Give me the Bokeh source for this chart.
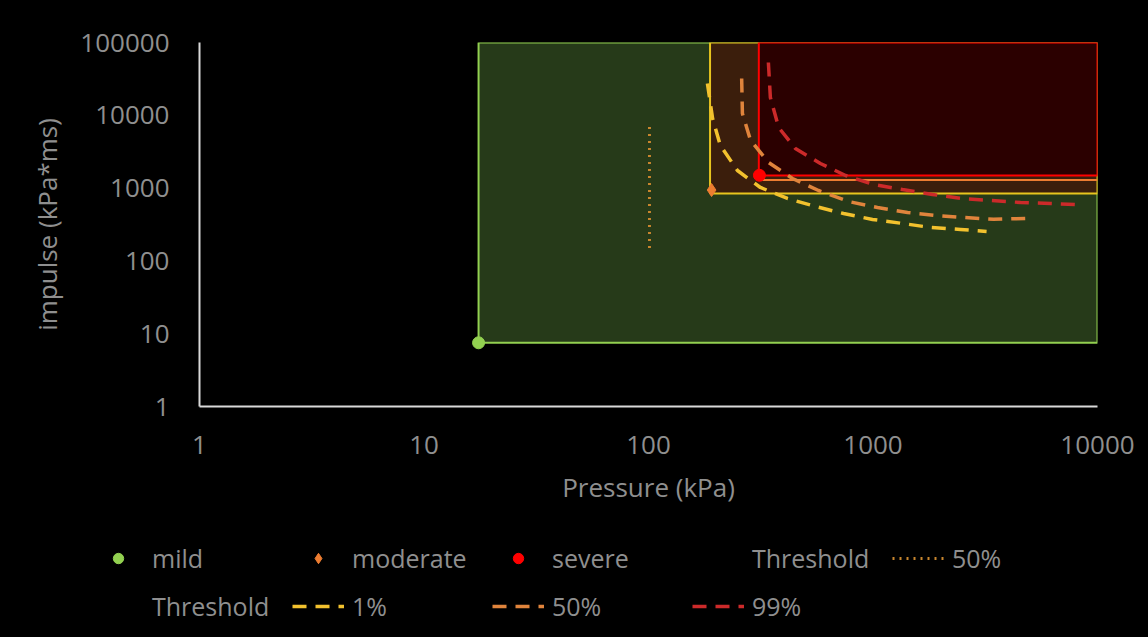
from bokeh.plotting import figure
from bokeh.models import Range1d, FixedTicker, NumeralTickFormatter, Legend, LegendItem, ColumnDataSource
from bokeh.embed import file_html
from bokeh.resources import INLINE

# ---- data -------------------------------------------------------------
x_ticks = [1, 10, 100, 1000, 10000]
y_ticks = [1, 10, 100, 1000, 10000, 100000]

zone_names = ["mild", "moderate", "severe"]
zone_left = [17.5, 188, 310]
zone_bottom = [7.5, 845, 1490]
zone_right = [10000, 10000, 10000]
zone_top = [100000, 100000, 100000]

point_x = [17.5, 191, 312]
point_y = [7.5, 940, 1500]

band_left = [310]
band_right = [10000]
band_level = [1295]

thr_dot_x = [101, 101]
thr_dot_y = [150, 8000]

thr1_x = [183, 193, 209, 249, 315, 416, 555, 739, 995, 1353, 1803, 2453, 3206]
thr1_y = [27350, 9040, 3850, 1745, 1020, 720, 559, 448, 371, 327, 288, 270, 254]
thr50_x = [260, 262, 285, 343, 438, 572, 778, 1047, 1425, 1898, 2530, 3440, 5030]
thr50_y = [32000, 10590, 4505, 2248, 1355, 927, 654, 542, 462, 421, 395, 372, 385]
thr99_x = [342, 349, 380, 451, 583, 755, 1005, 1353, 1840, 2505, 3335, 4540, 6180, 7980]
thr99_y = [53100, 17570, 6800, 3500, 2178, 1490, 1120, 957, 817, 720, 676, 634, 614, 595]

legend_labels = ["mild", "moderate", "severe", "Threshold", "50%", "Threshold", "1%", "50%", "99%"]

# ---- styles -----------------------------------------------------------
FONT = "Open Sans"
TXT = "#8f8f8f"
zone_fill = ["#263a19", "#3b1e0c", "#2b0000"]
zone_line = ["#92d050", "#e8c51e", "#ff0000"]
C_MILD, C_MOD, C_SEV = "#92d050", "#ed7d31", "#ff0000"
C_DOT, C_1, C_50, C_99 = "#c8862e", "#f2c12e", "#e0843c", "#cc2a2a"
DASH = "14 9"

p = figure(width=1148, height=516, x_axis_type="log", y_axis_type="log",
           x_range=Range1d(1, 10000), y_range=Range1d(1, 100000),
           output_backend="svg", toolbar_location=None,
           background_fill_color="black", border_fill_color="black",
           min_border_left=199, min_border_right=51, min_border_top=42, min_border_bottom=110)
p.outline_line_color = None
p.xgrid.visible = False
p.ygrid.visible = False

for ax, ticks in ((p.xaxis[0], x_ticks), (p.yaxis[0], y_ticks)):
    ax.ticker = FixedTicker(ticks=ticks, minor_ticks=[])
    ax.formatter = NumeralTickFormatter(format="0")
    ax.major_tick_line_color = None
    ax.minor_tick_line_color = None
    ax.axis_line_color = "#d9d9d9"
    ax.axis_line_width = 2
    ax.major_label_text_color = TXT
    ax.major_label_text_font = FONT
    ax.major_label_text_font_size = "26px"
    ax.axis_label_text_color = TXT
    ax.axis_label_text_font = FONT
    ax.axis_label_text_font_size = "26px"
    ax.axis_label_text_font_style = "normal"

p.xaxis.axis_label = "Pressure (kPa)"
p.yaxis.axis_label = "impulse (kPa*ms)"
p.xaxis.major_label_standoff = 23
p.yaxis.major_label_standoff = 24
p.xaxis.axis_label_standoff = 12
p.yaxis.axis_label_standoff = 12

zones = ColumnDataSource(dict(left=zone_left, right=zone_right, bottom=zone_bottom, top=zone_top,
                              fill=zone_fill, line=zone_line, name=zone_names))
p.quad(left="left", right="right", bottom="bottom", top="top", source=zones,
       fill_color="fill", line_color="line", line_width=2)
p.segment(x0=band_left, x1=band_right, y0=band_level, y1=band_level,
          line_color="#ed7d31", line_width=2)

p.line(thr_dot_x, thr_dot_y, line_color=C_DOT, line_width=3, line_dash="2 5")
p.line(thr1_x, thr1_y, line_color=C_1, line_width=3.5, line_dash=DASH)
p.line(thr50_x, thr50_y, line_color=C_50, line_width=3.5, line_dash=DASH)
p.line(thr99_x, thr99_y, line_color=C_99, line_width=3.5, line_dash=DASH)

p.scatter([point_x[0]], [point_y[0]], marker="circle", size=12, color=C_MILD)
p.scatter([point_x[1]], [point_y[1]], marker="diamond", size=13, color=C_MOD)
p.scatter([point_x[2]], [point_y[2]], marker="circle", size=12, color=C_SEV)

# ---- legend strip (separate root below, key glyphs kept off-range) -----
lf = figure(width=1148, height=121, x_range=Range1d(0, 1), y_range=Range1d(0, 1),
            output_backend="svg", toolbar_location=None,
            x_axis_location=None, y_axis_location=None,
            background_fill_color="black", border_fill_color="black",
            min_border_left=0, min_border_right=0, min_border_top=0, min_border_bottom=0)
lf.outline_line_color = None
lf.xgrid.visible = False
lf.ygrid.visible = False

off_x, off_y = [-5, -4], [-5, -5]
k_mild = lf.scatter(off_x[:1], off_y[:1], marker="circle", size=12, color=C_MILD)
k_mod = lf.scatter(off_x[:1], off_y[:1], marker="diamond", size=12, color=C_MOD)
k_sev = lf.scatter(off_x[:1], off_y[:1], marker="circle", size=12, color=C_SEV)
k_blank1 = lf.line(off_x, off_y, line_alpha=0)
k_dot = lf.line(off_x, off_y, line_color=C_DOT, line_width=3, line_dash="2 5")
k_blank2 = lf.line(off_x, off_y, line_alpha=0)
k_1 = lf.line(off_x, off_y, line_color=C_1, line_width=3.5, line_dash=DASH)
k_50 = lf.line(off_x, off_y, line_color=C_50, line_width=3.5, line_dash=DASH)
k_99 = lf.line(off_x, off_y, line_color=C_99, line_width=3.5, line_dash=DASH)
keys = [k_mild, k_mod, k_sev, k_blank1, k_dot, k_blank2, k_1, k_50, k_99]

legend = Legend(items=[LegendItem(label=lab, renderers=[r]) for lab, r in zip(legend_labels, keys)],
                location=(92, 14), orientation="horizontal", ncols=5,
                glyph_width=52, glyph_height=26, label_height=26, label_width=126,
                label_standoff=8, spacing=14, padding=0, margin=0,
                border_line_alpha=0, background_fill_alpha=0,
                label_text_font=FONT, label_text_font_size="25px", label_text_color=TXT)
lf.add_layout(legend)

html = file_html([p, lf], INLINE)
html = html.replace("</head>", "<style>html,body{background:#000000;}</style></head>", 1)
open("out.html", "w").write(html)
